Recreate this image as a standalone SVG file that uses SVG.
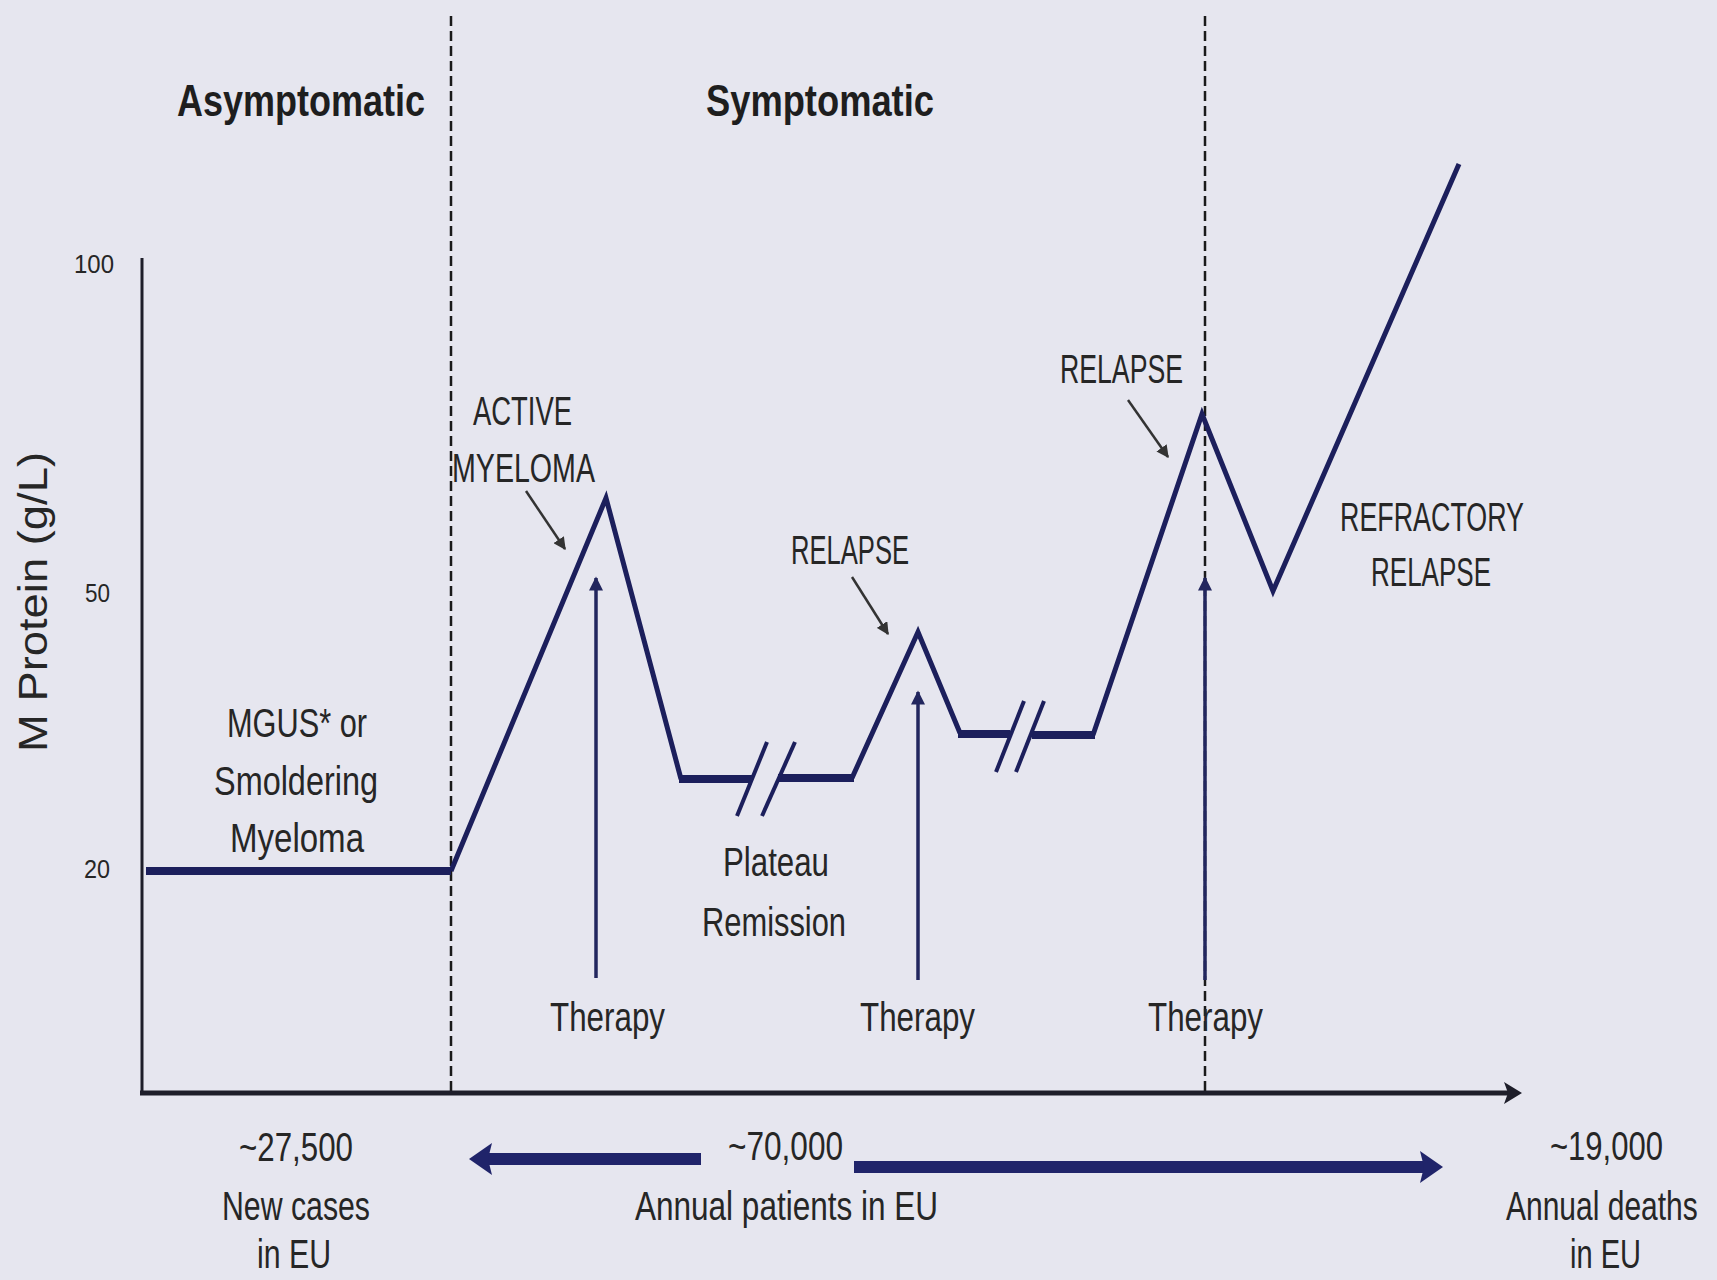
<svg xmlns="http://www.w3.org/2000/svg" width="1717" height="1280" viewBox="0 0 1717 1280">
  <defs>
    <style>
      .t { font-family: "Liberation Sans", Arial, sans-serif; font-size: 40px; fill: #262626; }
      .h { font-family: "Liberation Sans", Arial, sans-serif; font-size: 44px; font-weight: bold; fill: #1e1e1e; }
      .n { font-family: "Liberation Sans", Arial, sans-serif; font-size: 26px; fill: #262626; }
      .curve { fill: none; stroke: #1c1f5c; stroke-width: 5; stroke-linejoin: miter; stroke-linecap: butt; }
      .flat { fill: none; stroke: #1c1f5c; stroke-width: 8; }
      .brk { stroke: #1c1f5c; stroke-width: 4; }
      .dash { stroke: #1a1a1a; stroke-width: 2.5; stroke-dasharray: 10 5; fill: none; }
      .ptr { stroke: #333; stroke-width: 2.5; fill: none; }
      .ther { stroke: #22265e; stroke-width: 3.5; fill: none; }
      .big { fill: #20246a; }
    </style>
    <marker id="ptrHead" viewBox="0 0 10 10" refX="9" refY="5" markerWidth="5" markerHeight="5" orient="auto" markerUnits="strokeWidth">
      <path d="M0,0 L10,5 L0,10 z" fill="#333"/>
    </marker>
    <marker id="thHead" viewBox="0 0 10 10" refX="9" refY="5" markerWidth="4.5" markerHeight="4" orient="auto" markerUnits="strokeWidth">
      <path d="M0,0 L10,5 L0,10 z" fill="#22265e"/>
    </marker>
  </defs>

  <rect x="0" y="0" width="1717" height="1280" fill="#e6e6ef"/>

  <g id="headers">
    <text class="h" x="177" y="116" textLength="248" lengthAdjust="spacingAndGlyphs">Asymptomatic</text>
    <text class="h" x="706" y="116" textLength="228" lengthAdjust="spacingAndGlyphs">Symptomatic</text>
  </g>

  <g id="phase-dividers">
    <line class="dash" x1="451" y1="16" x2="451" y2="1093"/>
    <line class="dash" x1="1205" y1="16" x2="1205" y2="1093"/>
  </g>

  <g id="axes">
    <line x1="142" y1="258" x2="142" y2="1095" stroke="#1e1e2a" stroke-width="3"/>
    <line x1="140" y1="1093" x2="1508" y2="1093" stroke="#1e1e2a" stroke-width="5"/>
    <path d="M1522,1093 L1504,1082 L1508,1093 L1504,1104 z" fill="#1e1e2a"/>
    <text class="n" x="74" y="273" textLength="40" lengthAdjust="spacingAndGlyphs">100</text>
    <text class="n" x="85" y="602" textLength="25" lengthAdjust="spacingAndGlyphs">50</text>
    <text class="n" x="84" y="878" textLength="26" lengthAdjust="spacingAndGlyphs">20</text>
    <text class="t" transform="translate(47,602) rotate(-90)" text-anchor="middle" font-size="30" textLength="300" lengthAdjust="spacingAndGlyphs" fill="#333">M Protein (g/L)</text>
  </g>

  <g id="protein-curve">
    <line class="flat" x1="146" y1="871" x2="451" y2="871"/>
    <polyline class="curve" points="451,871 606,498 681,779"/>
    <line class="flat" x1="679" y1="779" x2="752" y2="779"/>
    <line class="flat" x1="778" y1="778" x2="854" y2="778"/>
    <polyline class="curve" points="852,778 918,632 960,733"/>
    <line class="flat" x1="958" y1="734" x2="1010" y2="734"/>
    <line class="flat" x1="1032" y1="735" x2="1095" y2="735"/>
    <polyline class="curve" points="1093,735 1202,414 1273,591 1459,164"/>
    <line class="brk" x1="737" y1="816" x2="767" y2="742"/>
    <line class="brk" x1="762" y1="816" x2="795" y2="742"/>
    <line class="brk" x1="996" y1="772" x2="1024" y2="701"/>
    <line class="brk" x1="1016" y1="772" x2="1044" y2="701"/>
  </g>

  <g id="labels-stages">
    <text class="t" x="473" y="425" textLength="99" lengthAdjust="spacingAndGlyphs">ACTIVE</text>
    <text class="t" x="452" y="482" textLength="143" lengthAdjust="spacingAndGlyphs">MYELOMA</text>
    <text class="t" x="791" y="564" textLength="118" lengthAdjust="spacingAndGlyphs">RELAPSE</text>
    <text class="t" x="1060" y="383" textLength="123" lengthAdjust="spacingAndGlyphs">RELAPSE</text>
    <text class="t" x="1340" y="531" textLength="184" lengthAdjust="spacingAndGlyphs">REFRACTORY</text>
    <text class="t" x="1371" y="586" textLength="120" lengthAdjust="spacingAndGlyphs">RELAPSE</text>
    <text class="t" x="227" y="737" textLength="140" lengthAdjust="spacingAndGlyphs">MGUS* or</text>
    <text class="t" x="214" y="795" textLength="164" lengthAdjust="spacingAndGlyphs">Smoldering</text>
    <text class="t" x="230" y="852" textLength="134" lengthAdjust="spacingAndGlyphs">Myeloma</text>
    <text class="t" x="723" y="876" textLength="106" lengthAdjust="spacingAndGlyphs">Plateau</text>
    <text class="t" x="702" y="936" textLength="144" lengthAdjust="spacingAndGlyphs">Remission</text>
    <text class="t" x="550" y="1031" textLength="115" lengthAdjust="spacingAndGlyphs">Therapy</text>
    <text class="t" x="860" y="1031" textLength="115" lengthAdjust="spacingAndGlyphs">Therapy</text>
    <text class="t" x="1148" y="1031" textLength="115" lengthAdjust="spacingAndGlyphs">Therapy</text>
  </g>

  <g id="labels-counts">
    <text class="t" x="239" y="1161" textLength="114" lengthAdjust="spacingAndGlyphs">~27,500</text>
    <text class="t" x="222" y="1220" textLength="148" lengthAdjust="spacingAndGlyphs">New cases</text>
    <text class="t" x="257" y="1268" textLength="74" lengthAdjust="spacingAndGlyphs">in EU</text>
    <text class="t" x="728" y="1160" textLength="115" lengthAdjust="spacingAndGlyphs">~70,000</text>
    <text class="t" x="635" y="1220" textLength="303" lengthAdjust="spacingAndGlyphs">Annual patients in EU</text>
    <text class="t" x="1550" y="1160" textLength="113" lengthAdjust="spacingAndGlyphs">~19,000</text>
    <text class="t" transform="translate(1506,1220) scale(0.75,1)">Annual deaths</text>
    <text class="t" x="1570" y="1268" textLength="71" lengthAdjust="spacingAndGlyphs">in EU</text>
  </g>

  <g id="connectors">
    <line class="ptr" x1="526" y1="491" x2="565" y2="549" marker-end="url(#ptrHead)"/>
    <line class="ptr" x1="852" y1="577" x2="888" y2="634" marker-end="url(#ptrHead)"/>
    <line class="ptr" x1="1128" y1="400" x2="1168" y2="457" marker-end="url(#ptrHead)"/>
    <line class="ther" x1="596" y1="978" x2="596" y2="578" marker-end="url(#thHead)"/>
    <line class="ther" x1="918" y1="980" x2="918" y2="692" marker-end="url(#thHead)"/>
    <line class="ther" x1="1205" y1="980" x2="1205" y2="578" marker-end="url(#thHead)"/>
    <rect class="big" x="486" y="1153" width="215" height="12"/>
    <path class="big" d="M469,1159 L492,1143 L488,1159 L492,1175 z"/>
    <rect class="big" x="854" y="1161" width="572" height="12"/>
    <path class="big" d="M1443,1167 L1420,1151 L1424,1167 L1420,1183 z"/>
  </g>
</svg>
